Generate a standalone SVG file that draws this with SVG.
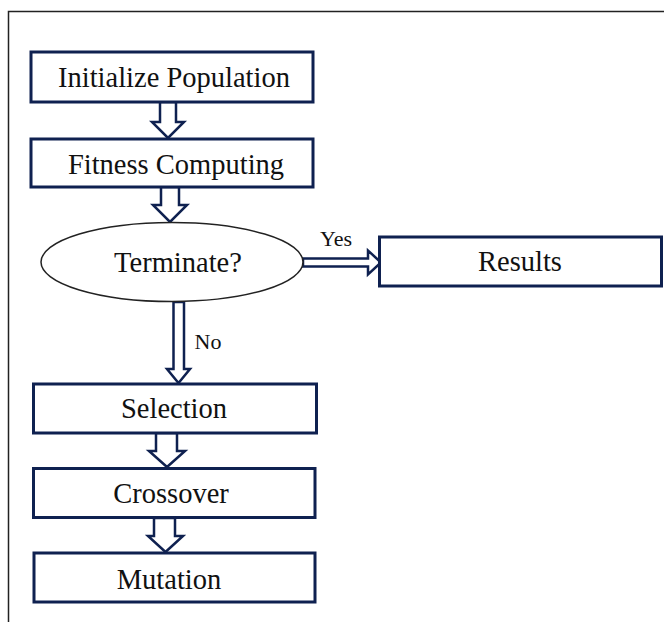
<svg xmlns="http://www.w3.org/2000/svg" width="664" height="622" viewBox="0 0 664 622">
<style>
.box{fill:#fff;stroke:#0f2150;stroke-width:3}
.arr{fill:#fff;stroke:#0f2150;stroke-width:2.5;stroke-linejoin:miter}
.t{font-family:"Liberation Serif","Times New Roman",serif;fill:#111;text-anchor:middle}
.big{font-size:28.5px}
.sm{font-size:22px}
</style>
<rect width="664" height="622" fill="#fff"/>
<path d="M8.5 622 V11.5 H664" fill="none" stroke="#222" stroke-width="1.5"/>
<g id="connectors">
<polygon class="arr" points="160,102 176,102 176,122 184,122 168,138 152,122 160,122"/>
<polygon class="arr" points="161,187 179,187 179,205 187,205 170,222 153,205 161,205"/>
<polygon class="arr" points="173.5,302 184,302 184,369 190,369 178.5,383 167,369 173.5,369"/>
<polygon class="arr" points="303,258.5 368,258.5 368,250.5 381,262.5 368,274.5 368,266.5 303,266.5"/>
<polygon class="arr" points="156,433 177,433 177,451 185,451 167,467 149,451 156,451"/>
<polygon class="arr" points="154,518 175,518 175,536 183,536 165.5,552 148,536 154,536"/>
<text class="t sm" x="336" y="246">Yes</text>
<text class="t sm" x="208" y="349">No</text>
</g>
<g id="init">
<rect class="box" x="31" y="52" width="282" height="50"/>
<text class="t big" x="174" y="87">Initialize Population</text>
</g>
<g id="fitness">
<rect class="box" x="31" y="139" width="282" height="48"/>
<text class="t big" x="176" y="174">Fitness Computing</text>
</g>
<g id="terminate">
<ellipse cx="172" cy="262" rx="131" ry="39.5" fill="#fff" stroke="#222" stroke-width="1.5"/>
<text class="t big" x="178" y="272">Terminate?</text>
</g>
<g id="results">
<rect class="box" x="379.5" y="237" width="282" height="49"/>
<text class="t big" x="520" y="271">Results</text>
</g>
<g id="selection">
<rect class="box" x="33.5" y="384" width="283" height="49"/>
<text class="t big" x="174" y="418">Selection</text>
</g>
<g id="crossover">
<rect class="box" x="33.5" y="468.5" width="281.5" height="49"/>
<text class="t big" x="171" y="503">Crossover</text>
</g>
<g id="mutation">
<rect class="box" x="34" y="553" width="281" height="49"/>
<text class="t big" x="169" y="589">Mutation</text>
</g>
</svg>
